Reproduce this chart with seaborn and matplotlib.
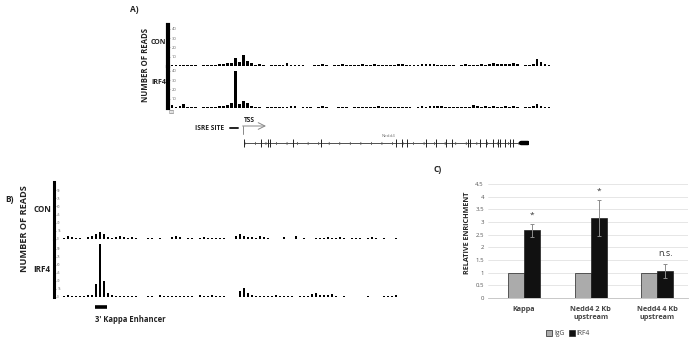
import numpy as np
import pandas as pd
import matplotlib
matplotlib.use('Agg')
import matplotlib.pyplot as plt
import seaborn as sns

nan = np.nan

# --- Panel A: ChIP-seq read counts around Nedd4 (binned) ---
a_con = [0.8, 1, 1, 0.8, 1.5, 1, 1.2, nan, 1, 1.2, 0.6, 1.5, 2, 2.5, 3, 3,
         9, 4, 12, 5, 3, 1.5, 2.5, 1.5, nan, 1.5, 1, 1.5, 1.5, 3, 1.2, 1,
         0.8, 1.2, nan, nan, 1.5, 1.5, 1.8, 1, nan, 1.2, 1, 2.5, 1, 0.8, 1.5, 1.5,
         1.8, 1.2, 1, 2, 0.8, 1.2, 1.5, 1.5, 1, 2.5, 2, 1, 1.2, 1, 1.5, 2.5,
         2, 2.5, 2, 1.5, 1.2, 1.5, 1.2, 0.8, nan, 0.8, 2, 1.5, 1, 1.2, 2, 1.5,
         2.5, 3, 2, 2.5, 2, 2.5, 3, 2, nan, 1, 1.5, 2, 7, 4, 2.5, 1.5]
a_irf4 = [3, 1, 2, 4, 1.5, 1, 1, nan, 1.2, 1.2, 1.2, 1.5, 2, 2.5, 3, 5,
          40, 4, 7, 5, 2.5, 1.5, 1, nan, 1, 1, 0.8, 1.5, 1, 1.5, 2, 2,
          nan, 1, 1, 1.5, nan, 1, 2.5, 1.5, nan, nan, 1, 1.2, 1, nan, 1.2, 1.5,
          1.2, 1.5, 1.5, 1.2, 2, 1, 1.2, 1, 1.5, 1, 1.2, 1.5, 0.8, nan, 1.5, 2,
          1.5, 2.5, 2, 2.5, 2, 1, 0.8, 1.2, 1, 1.2, 1.5, 1.2, 3, 2, 1.5, 2,
          1.5, 2, 1, 1.5, 2.5, 1.5, 2, 1, nan, 1.2, 1.5, 2, 4, 2.5, 1.5, 1]
a_ticks = [10, 20, 30, 40]

# Nedd4 gene model (kb from TSS)
gene_start, gene_end = 0, 150
exons_kb = [0, 8.8, 12.6, 13.6, 26, 40.6, 80.3, 83.3, 85.9, 96.1, 101.3, 106.9,
            109.6, 118.3, 119.2, 124.8, 127.7, 131.5, 134.1, 135.4, 137.7, 140.3, 142.1]
utr_kb = (146.5, 150)

# --- Panel B: reads around the 3' kappa enhancer ---
b_con = [2, 5, 3, 2, 2, nan, 3, 5, 10, 13, 10, 3, 2, 3, 5, 3,
         1.5, 4, 2, nan, nan, 1.5, 1, nan, 1.5, nan, nan, 3, 6, 3, nan, 1,
         1, nan, 2, 3, 2, 2, 1.5, 2, 1.5, nan, nan, 5, 9, 6, 3, 3,
         2, 5, 3, 1, nan, nan, nan, 3, nan, nan, 5, nan, 1, nan, nan, 2,
         2, 1.5, 3, 1.5, 2, 3, 2, nan, 2, 2.5, 1.5, nan, 2, 3.5, 1.5, nan,
         1, nan, nan, 1.5]
b_irf4 = [2, 3, 1.5, 2, 1.5, 2, 4, 3, 25, 100, 30, 8, 3, 2, 2.5, 2,
          1.5, 1.5, 1, nan, nan, 2, 1, nan, 4, 2, 1.5, 1.5, 1.5, 1, 2, 1.5,
          1.5, nan, 3, 1.5, 1.5, 4, 2, 2, 1.5, nan, nan, nan, 12, 16, 8, 3,
          2, 2, 1.5, 2, 2.5, 4, 1.5, 1.5, 1.5, 1.5, nan, 1.5, 1.5, 2, 6, 8,
          4, 3, 4, 6, 2, nan, 1, nan, nan, nan, nan, nan, 1.5, nan, nan, nan,
          2, 1.5, 1.5, 3]
b_ticks = [0, 15, 30, 45, 60, 75, 90]
enhancer_bins = (8, 11)

# --- Panel C: ChIP-qPCR ---
regions = ['Kappa', 'Nedd4 2 Kb\nupstream', 'Nedd4 4 Kb\nupstream']
igg = [1, 1, 1]
irf4 = [2.67, 3.15, 1.05]
irf4_err = [0.27, 0.72, 0.28]
marks = ['*', '*', 'n.s.']
mark_y = [3.12, 4.08, 1.58]
c_ticks = [0, 0.5, 1, 1.5, 2, 2.5, 3, 3.5, 4, 4.5]

sns.set_theme(style='white')
plt.rcParams['font.family'] = ['Open Sans', 'DejaVu Sans']

W, H = 700, 344
fig = plt.figure(figsize=(W / 100, H / 100), dpi=100)


def px_axes(x0, y0, x1, y1):
    return fig.add_axes([x0 / W, 1 - y1 / H, (x1 - x0) / W, (y1 - y0) / H])


def track(ax, vals, ylim, ticks, xlim, spine_w, fs):
    df = pd.DataFrame({'bin': np.arange(len(vals)), 'reads': vals}).dropna()
    sns.barplot(data=df, x='bin', y='reads', native_scale=True, color='black',
                width=0.7, errorbar=None, ax=ax, saturation=1, linewidth=0)
    ax.set_xlim(*xlim)
    ax.set_ylim(0, ylim)
    ax.set_xlabel('')
    ax.set_ylabel('')
    ax.set_xticks([])
    ax.set_yticks(ticks, [str(t) for t in ticks])
    for s in ['top', 'right', 'bottom']:
        ax.spines[s].set_visible(False)
    ax.spines['left'].set_linewidth(spine_w)
    ax.spines['left'].set_color('black')
    ax.tick_params(axis='y', direction='in', length=1.5, width=0.4, color='#777',
                   pad=-(spine_w / 2 + 1.2), labelsize=fs, labelcolor='#666', left=True)
    for lbl in ax.get_yticklabels():
        lbl.set_ha('left')
    ax.patch.set_alpha(0)


# panel A tracks
ax_a1 = px_axes(168, 25, 551, 66)
track(ax_a1, a_con, 44, a_ticks, (-1.0, 95.5), 3, 3)
ax_a2 = px_axes(168, 67, 551, 108)
track(ax_a2, a_irf4, 44, a_ticks, (-1.0, 95.5), 3, 3)

# gene model
ax_g = px_axes(243, 137, 529, 149)
ax_g.plot([gene_start, gene_end], [0, 0], color='#333', lw=0.6)
ax_g.plot([gene_start, gene_end], [0, 0], color='#555', lw=2.2, dashes=(0.25, 3.2))
ax_g.vlines(exons_kb, -0.7, 0.7, color='#222', lw=0.7)
ax_g.plot(list(utr_kb), [0, 0], color='black', lw=3.2, solid_capstyle='round')
ax_g.set_xlim(gene_start - 0.5, gene_end + 0.5)
ax_g.set_ylim(-1, 1)
ax_g.axis('off')

# panel B tracks
ax_b1 = px_axes(54, 182, 398, 239)
track(ax_b1, b_con, 105, b_ticks, (-2.5, 83.5), 2.2, 2.2)
ax_b2 = px_axes(54, 241, 398, 297)
track(ax_b2, b_irf4, 105, b_ticks, (-2.5, 83.5), 2.2, 2.2)

# panel C bar chart
ax_c = px_axes(488, 184, 688, 298)
df_c = pd.DataFrame({'region': regions * 2, 'value': igg + irf4,
                     'sample': ['IgG'] * 3 + ['IRF4'] * 3})
sns.barplot(data=df_c, x='region', y='value', hue='sample',
            palette={'IgG': '#ababab', 'IRF4': '#111111'}, width=0.48,
            errorbar=None, saturation=1, edgecolor='#222', linewidth=0.5, ax=ax_c)
for bar, err, mk, my in zip(ax_c.containers[1], irf4_err, marks, mark_y):
    cx = bar.get_x() + bar.get_width() / 2
    ax_c.errorbar(cx, bar.get_height(), yerr=err, color='#8c8c8c', lw=0.7,
                  capsize=1.5, capthick=0.7)
    ax_c.text(cx, my, mk, ha='center', va='bottom', fontsize=6 if mk == '*' else 6.5,
              color='#333')
ax_c.set_xlim(-0.54, 2.46)
ax_c.set_ylim(0, 4.5)
ax_c.set_yticks(c_ticks, ['0', '0.5', '1', '1.5', '2', '2.5', '3', '3.5', '4', '4.5'])
ax_c.yaxis.grid(True, color='#dcdcdc', lw=0.5)
ax_c.set_axisbelow(True)
for s in ['top', 'right', 'left']:
    ax_c.spines[s].set_visible(False)
ax_c.spines['bottom'].set_color('#bfbfbf')
ax_c.spines['bottom'].set_linewidth(0.6)
ax_c.tick_params(axis='y', labelsize=4.3, labelcolor='#555', length=0, pad=3)
ax_c.tick_params(axis='x', labelsize=5.2, labelcolor='#444', length=0, pad=6)
for lbl in ax_c.get_xticklabels():
    lbl.set_fontweight('bold')
ax_c.set_xlabel('')
ax_c.set_ylabel('RELATIVE ENRICHMENT', fontsize=5.2, fontweight='bold', labelpad=3)
ax_c.yaxis.set_label_coords(-0.085, 0.57)
ax_c.legend(loc='upper center', bbox_to_anchor=(0.4, -0.23), ncol=2, frameon=False,
            fontsize=4.8, handlelength=0.9, handleheight=0.9, handletextpad=0.3,
            columnspacing=0.6, labelcolor='#444')
ax_c.patch.set_alpha(0)

# overlay in pixel coordinates for labels and annotations
ov = fig.add_axes([0, 0, 1, 1])
ov.set_xlim(0, W)
ov.set_ylim(H, 0)
ov.axis('off')
ov.patch.set_alpha(0)

bold = dict(fontweight='bold', color='#222')
ov.text(130, 9, 'A)', fontsize=6, va='center', **bold)
ov.text(146, 65, 'NUMBER OF READS', fontsize=5.6, rotation=90, ha='center', va='center', **bold)
ov.text(151, 42, 'CON', fontsize=5, va='center', **bold)
ov.text(151, 83, 'IRF4', fontsize=5, va='center', **bold)
ov.text(171, 113, '⊟', fontsize=4.5, ha='center', va='center', color='#777', family='DejaVu Sans')
ov.text(195, 128, 'ISRE SITE', fontsize=4.8, va='center', **bold)
ov.plot([230, 238], [128, 128], color='#222', lw=1.4)
ov.text(244, 121, 'TSS', fontsize=4.8, va='center', **bold)
ov.plot([243, 243], [134, 126], color='#888', lw=0.7)
ov.annotate('', xy=(266, 126), xytext=(242.6, 126),
            arrowprops=dict(arrowstyle='->', color='#888', lw=0.7, shrinkA=0, shrinkB=0))
ov.text(388, 136, 'Nedd4', fontsize=3.2, ha='center', va='center', color='#777')

ov.text(5, 199, 'B)', fontsize=6, va='center', **bold)
ov.text(25, 229, 'NUMBER OF READS', fontsize=6.6, rotation=90, ha='center', va='center', **bold)
ov.text(33, 209, 'CON', fontsize=5.8, va='center', **bold)
ov.text(33, 270, 'IRF4', fontsize=5.8, va='center', **bold)
ov.text(95, 319, "3' Kappa Enhancer", fontsize=5.5, va='center', **bold)
ov.text(433, 170, 'C)', fontsize=6, va='center', **bold)

# enhancer bar drawn in the B track coordinates
ax_b2.plot([enhancer_bins[0] - 0.3, enhancer_bins[1] - 0.3], [-19, -19], color='black',
           lw=2.6, clip_on=False, solid_capstyle='butt')

fig.savefig('out.png', dpi=100)
